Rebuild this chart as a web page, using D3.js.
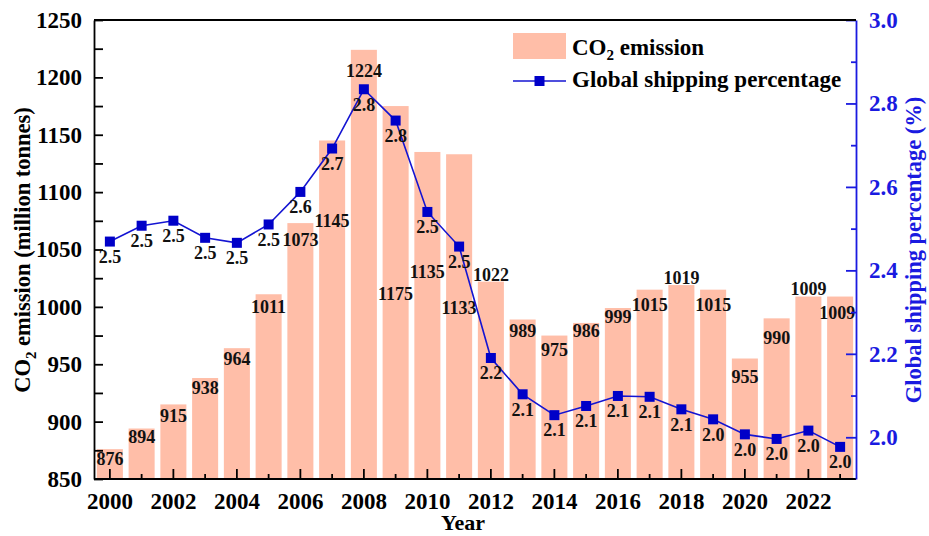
<!DOCTYPE html>
<html><head><meta charset="utf-8">
<script src="https://cdn.jsdelivr.net/npm/d3@7"></script>
<style>
body{margin:0;background:#fff}
svg text{font-family:"Liberation Serif","Times New Roman",serif;font-weight:bold}
</style>
</head><body>
<svg id="c" width="929" height="536"></svg>
<script>
const years = [2000,2001,2002,2003,2004,2005,2006,2007,2008,2009,2010,2011,2012,2013,2014,2015,2016,2017,2018,2019,2020,2021,2022,2023];
const co2 = [876,894,915,938,964,1011,1073,1145,1224,1175,1135,1133,1022,989,975,986,999,1015,1019,1015,955,990,1009,1009];
const share = [2.469,2.507,2.519,2.478,2.466,2.510,2.588,2.692,2.834,2.759,2.540,2.457,2.190,2.103,2.053,2.075,2.099,2.097,2.067,2.043,2.007,1.996,2.016,1.977];
const leftMajor = [850,900,950,1000,1050,1100,1150,1200,1250];
const leftMinor = [875,925,975,1025,1075,1125,1175,1225];
const rightMajor = [2.0,2.2,2.4,2.6,2.8,3.0];
const rightMinor = [2.1,2.3,2.5,2.7,2.9];
const xMajor = [2000,2002,2004,2006,2008,2010,2012,2014,2016,2018,2020,2022];
const xMinor = [2001,2003,2005,2007,2009,2011,2013,2015,2017,2019,2021,2023];

// layout: vertical nudge (px) of each bar's value label from the bar top
const barLabelDy = [10,8,11,10,11,12,17,80,21,188,120,153,-7,11.5,14,8,9,15,-7,15,18,19,-7.5,16];

const L = 94, R = 856, T = 20, B = 479;
const barColor = "#FFBEA8", lineColor = "#1414D2", markColor = "#0000C8", axisBlue = "#1a1ae0";

const svg = d3.select("#c");
const x = d3.scaleBand().domain(years).range([L, R]).paddingInner(0.18).paddingOuter(0.09);
const yL = d3.scaleLinear().domain([850, 1250]).range([B, T]);
const yR = d3.scaleLinear().domain([1.9, 3.0]).range([B, T]);
const cx = d => x(d) + x.bandwidth() / 2;

// bars
svg.append("g").selectAll("rect").data(years).join("rect")
  .attr("x", d => x(d)).attr("width", x.bandwidth())
  .attr("y", (d, i) => yL(co2[i])).attr("height", (d, i) => B - yL(co2[i]))
  .attr("fill", barColor);

// bar labels
svg.append("g").selectAll("text").data(years).join("text")
  .attr("x", (d, i) => cx(d) - (i === years.length - 1 ? 3 : 0))
  .attr("y", (d, i) => yL(co2[i]) + barLabelDy[i])
  .attr("dy", "0.35em").attr("text-anchor", "middle")
  .attr("font-size", 18).attr("fill", "#111")
  .text((d, i) => co2[i]);

// line
svg.append("path").datum(years)
  .attr("d", d3.line().x(d => cx(d)).y((d, i) => yR(share[i])))
  .attr("fill", "none").attr("stroke", lineColor).attr("stroke-width", 1.6);

svg.append("g").selectAll("rect").data(years).join("rect")
  .attr("x", d => cx(d) - 5).attr("y", (d, i) => yR(share[i]) - 5)
  .attr("width", 10).attr("height", 10).attr("fill", markColor);

svg.append("g").selectAll("text").data(years).join("text")
  .attr("x", d => cx(d)).attr("y", (d, i) => yR(share[i]) + 15)
  .attr("dy", "0.35em").attr("text-anchor", "middle")
  .attr("font-size", 18).attr("fill", "#111")
  .text((d, i) => d3.format(".1f")(share[i]));

// axes
function style(g, color) {
  g.selectAll("path,line").attr("stroke", color).attr("stroke-width", 1.8);
  g.selectAll("text").attr("fill", color).attr("font-size", 23)
    .attr("font-family", '"Liberation Serif","Times New Roman",serif').attr("font-weight", "bold");
}
const gl = svg.append("g").attr("transform", `translate(${L},0)`)
  .call(d3.axisLeft(yL).tickValues(leftMajor).tickSize(-9).tickSizeOuter(0).tickPadding(12).tickFormat(d3.format("d")));
gl.call(g => style(g, "#000"));
svg.append("g").attr("transform", `translate(${L},0)`)
  .call(d3.axisLeft(yL).tickValues(leftMinor).tickSize(-9).tickSizeOuter(0).tickFormat(""))
  .call(g => { g.select(".domain").remove(); style(g, "#000"); });

const gb = svg.append("g").attr("transform", `translate(0,${B})`)
  .call(d3.axisBottom(x).tickValues(xMajor).tickSize(-10).tickSizeOuter(0).tickPadding(14));
gb.select(".domain").attr("d", `M${L},0H${R}`);
gb.call(g => style(g, "#000"));
svg.append("g").attr("transform", `translate(0,${B})`)
  .call(d3.axisBottom(x).tickValues(xMinor).tickSize(-5).tickSizeOuter(0).tickFormat(""))
  .call(g => { g.select(".domain").remove(); style(g, "#000"); });

const gr = svg.append("g").attr("transform", `translate(${R},0)`)
  .call(d3.axisRight(yR).tickValues(rightMajor).tickSize(-10).tickSizeOuter(0).tickPadding(13).tickFormat(d3.format(".1f")));
gr.call(g => style(g, axisBlue));
svg.append("g").attr("transform", `translate(${R},0)`)
  .call(d3.axisRight(yR).tickValues(rightMinor).tickSize(-5).tickSizeOuter(0).tickFormat(""))
  .call(g => { g.select(".domain").remove(); style(g, axisBlue); });

// top frame
svg.append("line").attr("x1", L).attr("x2", R).attr("y1", T).attr("y2", T)
  .attr("stroke", "#000").attr("stroke-width", 1.8);

// titles
const lt = svg.append("text").attr("transform", "translate(22,250) rotate(-90)")
  .attr("text-anchor", "middle").attr("dy", "0.35em").attr("font-size", 22.5).attr("fill", "#000");
lt.append("tspan").text("CO");
lt.append("tspan").attr("font-size", 15).attr("dy", 6).text("2");
lt.append("tspan").attr("dy", -6).text(" emission (million tonnes)");

svg.append("text").attr("transform", "translate(914,250) rotate(-90)")
  .attr("text-anchor", "middle").attr("dy", "0.33em").attr("font-size", 22.5).attr("fill", axisBlue)
  .text("Global shipping percentage (%)");

svg.append("text").attr("x", 463).attr("y", 530)
  .attr("text-anchor", "middle").attr("font-size", 22).attr("fill", "#000").text("Year");

// legend
const lg = svg.append("g");
lg.append("rect").attr("x", 513).attr("y", 33).attr("width", 53).attr("height", 26).attr("fill", barColor);
const t1 = lg.append("text").attr("x", 572).attr("y", 54.5).attr("font-size", 23).attr("fill", "#000");
t1.append("tspan").text("CO");
t1.append("tspan").attr("font-size", 15).attr("dy", 5).text("2");
t1.append("tspan").attr("dy", -5).text(" emission");
lg.append("line").attr("x1", 513).attr("x2", 566).attr("y1", 81).attr("y2", 81)
  .attr("stroke", lineColor).attr("stroke-width", 1.6);
lg.append("rect").attr("x", 534.5).attr("y", 76).attr("width", 10).attr("height", 10).attr("fill", markColor);
lg.append("text").attr("x", 572).attr("y", 87).attr("font-size", 23).attr("fill", "#000")
  .text("Global shipping percentage");
</script>
</body></html>
